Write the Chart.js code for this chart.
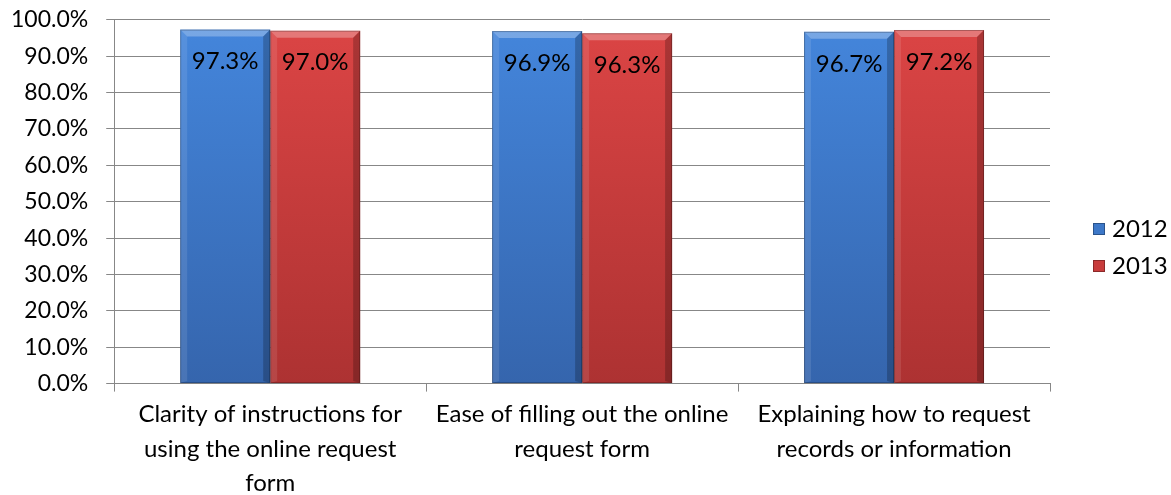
<!DOCTYPE html>
<html lang="en">
<head>
  <meta charset="UTF-8">
  <title>Online request form ratings</title>
  <script src="https://cdn.jsdelivr.net/npm/chart.js"></script>
  <style>
    html, body { margin: 0; padding: 0; background: #fff; overflow: hidden; }
    .chartBox { width: 1171px; height: 507px; margin-top: -12px; }
  </style>
</head>
<body>
  <div class="chartBox">
    <canvas id="myBarChart"></canvas>
  </div>
  <script>
    // dados do gráfico
    const categories = [
      ['Clarity of instructions for', 'using the online request', 'form'],
      ['Ease of filling out the online', 'request form'],
      ['Explaining how to request', 'records or information']
    ];
    const seriesNames = ['2012', '2013'];
    const values2012 = [97.3, 96.9, 96.7];
    const values2013 = [97.0, 96.3, 97.2];
    const yTicks = [0, 10, 20, 30, 40, 50, 60, 70, 80, 90, 100];

    const FONT = 'Lato';
    const gridColor = '#878787';
    const legendColors = ['#3d78c8', '#c83c3c'];

    // gradiente vertical de cada série
    function barFill(top, bottom) {
      return function (context) {
        const area = context.chart.chartArea;
        if (!area) return top;
        const g = context.chart.ctx.createLinearGradient(0, area.top, 0, area.bottom);
        g.addColorStop(0, top);
        g.addColorStop(1, bottom);
        return g;
      };
    }

    // efeito de relevo e rótulos dentro das barras
    const bevelPlugin = {
      id: 'bevel',
      afterDatasetsDraw(chart) {
        const ctx = chart.ctx;
        chart.data.datasets.forEach((ds, i) => {
          const meta = chart.getDatasetMeta(i);
          meta.data.forEach((el, j) => {
            const p = el.getProps(['x', 'y', 'base', 'width'], true);
            const l = p.x - p.width / 2, r = p.x + p.width / 2;
            const t = p.y, b = p.base, s = 7;
            ctx.save();
            ctx.fillStyle = 'rgba(255,255,255,0.28)';
            ctx.beginPath();
            ctx.moveTo(l, t); ctx.lineTo(r, t); ctx.lineTo(r - s, t + s); ctx.lineTo(l + s, t + s);
            ctx.closePath(); ctx.fill();
            ctx.fillStyle = 'rgba(255,255,255,0.10)';
            ctx.beginPath();
            ctx.moveTo(l, t); ctx.lineTo(l + s, t + s); ctx.lineTo(l + s, b - 2); ctx.lineTo(l, b);
            ctx.closePath(); ctx.fill();
            ctx.fillStyle = 'rgba(0,0,0,0.22)';
            ctx.beginPath();
            ctx.moveTo(r, t); ctx.lineTo(r - s, t + s); ctx.lineTo(r - s, b - 2); ctx.lineTo(r, b);
            ctx.closePath(); ctx.fill();
            ctx.strokeStyle = 'rgba(0,0,0,0.25)';
            ctx.lineWidth = 1;
            ctx.strokeRect(l + 0.5, t + 0.5, p.width - 1, b - t - 1);

            ctx.fillStyle = '#000';
            ctx.font = '24px ' + FONT;
            ctx.textAlign = 'center';
            ctx.textBaseline = 'middle';
            ctx.fillText(ds.data[j].toFixed(1) + '%', p.x, t + 32);
            ctx.restore();
          });
        });
      },
      // legenda à direita
      afterDraw(chart) {
        const ctx = chart.ctx;
        const x = chart.chartArea.right + 43;
        const mid = 12 + 495 / 2;
        chart.data.datasets.forEach((ds, i) => {
          const y = mid + (i - 0.5) * 37;
          ctx.save();
          ctx.fillStyle = legendColors[i];
          ctx.fillRect(x, y - 6, 12, 12);
          ctx.strokeStyle = 'rgba(0,0,0,0.3)';
          ctx.lineWidth = 1;
          ctx.strokeRect(x + 0.5, y - 5.5, 11, 11);
          ctx.fillStyle = '#000';
          ctx.font = '24px ' + FONT;
          ctx.textAlign = 'left';
          ctx.textBaseline = 'middle';
          ctx.fillText(ds.label, x + 19, y);
          ctx.restore();
        });
      }
    };

    const ctx = document.getElementById('myBarChart').getContext('2d');
    const myBarChart = new Chart(ctx, {
      type: 'bar',
      data: {
        labels: categories,
        datasets: [
          {
            label: seriesNames[0],
            data: values2012,
            backgroundColor: barFill('#4486dc', '#3565ad'),
            borderWidth: 0
          },
          {
            label: seriesNames[1],
            data: values2013,
            backgroundColor: barFill('#dc4545', '#ad3232'),
            borderWidth: 0
          }
        ]
      },
      options: {
        responsive: true,
        maintainAspectRatio: false,
        animation: false,
        layout: {
          padding: { top: -4, left: -7, right: 121, bottom: -11 }
        },
        datasets: {
          bar: { categoryPercentage: 0.577, barPercentage: 1.0 }
        },
        scales: {
          x: {
            grid: { offset: true, drawOnChartArea: false, color: gridColor, tickLength: 8 },
            border: { color: gridColor },
            ticks: {
              color: '#000',
              padding: 5,
              maxRotation: 0,
              font: { family: FONT, size: 24, lineHeight: 1.45 }
            }
          },
          y: {
            min: 0,
            max: 100,
            afterBuildTicks(scale) {
              scale.ticks = yTicks.map(v => ({ value: v }));
            },
            grid: { color: gridColor, tickLength: 8 },
            border: { color: gridColor },
            ticks: {
              color: '#000',
              padding: 18,
              font: { family: FONT, size: 23 },
              callback: v => v.toFixed(1) + '%'
            }
          }
        },
        plugins: {
          legend: { display: false },
          tooltip: { enabled: false }
        }
      },
      plugins: [bevelPlugin]
    });
  </script>
</body>
</html>
